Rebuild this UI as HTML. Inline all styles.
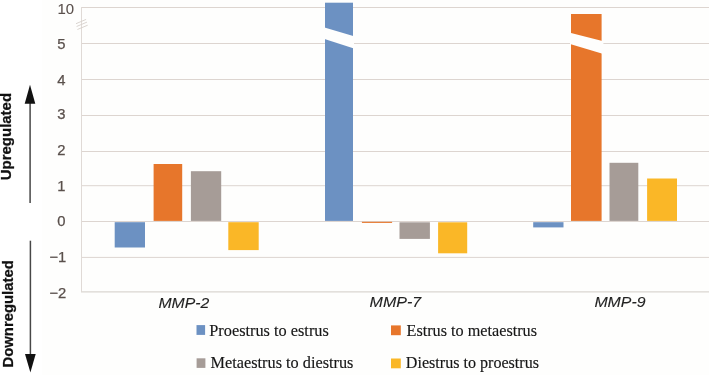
<!DOCTYPE html>
<html>
<head>
<meta charset="utf-8">
<style>
html,body{margin:0;padding:0;background:#fefefd;}
body{width:709px;height:375px;overflow:hidden;}
svg{display:block;will-change:transform;transform:translateZ(0);filter:blur(0.35px);}
.ax{font-family:"Liberation Sans",sans-serif;font-size:14.8px;fill:#5a504c;stroke:#5a504c;stroke-width:0.25px;}
.cat{font-family:"Liberation Sans",sans-serif;font-size:14.3px;font-style:italic;fill:#222;stroke:#222;stroke-width:0.1px;}
.leg{font-family:"Liberation Serif",serif;font-size:16.2px;fill:#161616;stroke:#161616;stroke-width:0.15px;}
.rot{font-family:"Liberation Sans",sans-serif;font-size:14px;font-weight:bold;fill:#111;stroke:#111;stroke-width:0.25px;}
</style>
</head>
<body>
<svg width="709" height="375" viewBox="0 0 709 375">
<rect x="0" y="0" width="709" height="375" fill="#fefefd"/>
<rect x="0" y="0" width="42" height="375" fill="#ffffff"/>
<!-- gridlines -->
<g stroke="#ddd5d0" stroke-width="1" fill="none">
<line x1="81" y1="7.5" x2="709" y2="7.5"/>
<line x1="81" y1="43.5" x2="709" y2="43.5"/>
<line x1="81" y1="79.5" x2="709" y2="79.5"/>
<line x1="81" y1="115.5" x2="709" y2="115.5"/>
<line x1="81" y1="151.5" x2="709" y2="151.5"/>
<line x1="81" y1="185.7" x2="709" y2="185.7"/>
<line x1="81" y1="221.5" x2="709" y2="221.5"/>
<line x1="81" y1="257.4" x2="709" y2="257.4"/>
<line x1="81" y1="291.8" x2="709" y2="291.8" stroke-width="1.3" stroke="#dad6d1"/>
<line x1="81.5" y1="7" x2="81.5" y2="292" stroke="#e0dad6"/>
</g>
<!-- axis break mark -->
<g stroke="#d6cfcb" stroke-width="0.9" fill="none">
<line x1="76" y1="23.7" x2="86.1" y2="19.4"/>
<line x1="76.6" y1="26.5" x2="87" y2="22.1"/>
<line x1="77.4" y1="29.5" x2="87.7" y2="25.2"/>
</g>
<!-- bars MMP-2 -->
<rect x="114.7" y="222.2" width="30.3" height="25.3" fill="#6c91c2"/>
<rect x="153.6" y="164" width="28.6" height="56.9" fill="#e7762b"/>
<rect x="190.9" y="171.2" width="30.3" height="49.7" fill="#a69c97"/>
<rect x="228.3" y="222.2" width="30.4" height="27.9" fill="#fab727"/>
<!-- bars MMP-7 -->
<rect x="325" y="2.7" width="28" height="218.2" fill="#6c91c2"/>
<polygon points="324.5,27.5 354,36.3 354,48.6 324.5,39.0" fill="#fefefd"/>
<rect x="361.9" y="221.8" width="30.2" height="1.1" fill="#e7762b"/>
<rect x="399.5" y="222.3" width="30.4" height="16.6" fill="#a69c97"/>
<rect x="438.1" y="222.3" width="29.1" height="31" fill="#fab727"/>
<!-- bars MMP-9 -->
<rect x="533.2" y="222.2" width="30.3" height="5.2" fill="#6c91c2"/>
<rect x="571" y="14" width="30.6" height="206.9" fill="#e7762b"/>
<polygon points="570,32.8 603.4,41.3 603.4,54.0 570,44.1" fill="#fefefd"/>
<rect x="609.5" y="162.8" width="28.8" height="58.1" fill="#a69c97"/>
<rect x="647.1" y="178.5" width="29.9" height="42.4" fill="#fab727"/>
<!-- y labels -->
<g class="ax">
<text x="57.4" y="14.1" textLength="16.6" lengthAdjust="spacingAndGlyphs" style="font-size:15.2px;stroke-width:0.1px">10</text>
<text x="65.6" y="48.9" text-anchor="end">5</text>
<text x="65.6" y="84.7" text-anchor="end">4</text>
<text x="65.6" y="119.3" text-anchor="end">3</text>
<text x="65.6" y="155.3" text-anchor="end">2</text>
<text x="65.6" y="191.1" text-anchor="end">1</text>
<text x="65.6" y="225.6" text-anchor="end">0</text>
<text x="66.3" y="262" text-anchor="end">−1</text>
<text x="66.3" y="297.7" text-anchor="end">−2</text>
</g>
<!-- category labels -->
<g class="cat">
<text x="158.4" y="307.5" textLength="50.8" lengthAdjust="spacingAndGlyphs">MMP-2</text>
<text x="369.6" y="307.4" textLength="51.6" lengthAdjust="spacingAndGlyphs">MMP-7</text>
<text x="594.4" y="307.4" textLength="51.1" lengthAdjust="spacingAndGlyphs">MMP-9</text>
</g>
<!-- legend -->
<rect x="196.5" y="325.1" width="8.6" height="9.8" fill="#6c91c2"/>
<rect x="391" y="325.4" width="9.8" height="9.8" fill="#e7762b"/>
<rect x="196.6" y="358.3" width="8.8" height="9.6" fill="#a69c97"/>
<rect x="391" y="358.5" width="9.8" height="9.8" fill="#fab727"/>
<g class="leg">
<text x="209.3" y="335.7" textLength="119.5" lengthAdjust="spacingAndGlyphs">Proestrus to estrus</text>
<text x="406.5" y="335.5" textLength="130.5" lengthAdjust="spacingAndGlyphs">Estrus to metaestrus</text>
<text x="210.6" y="368.1" textLength="142.8" lengthAdjust="spacingAndGlyphs">Metaestrus to diestrus</text>
<text x="405.8" y="368" textLength="133.2" lengthAdjust="spacingAndGlyphs">Diestrus to proestrus</text>
</g>
<!-- rotated labels and arrows -->
<text class="rot" transform="translate(11.3,180.3) rotate(-90)" textLength="87.4" lengthAdjust="spacingAndGlyphs">Upregulated</text>
<text class="rot" transform="translate(13.3,367.5) rotate(-90)" textLength="107.3" lengthAdjust="spacingAndGlyphs">Downregulated</text>
<g stroke="#484848" stroke-width="1.5" fill="none">
<line x1="30.1" y1="100" x2="30.1" y2="203"/>
<line x1="30.4" y1="240.7" x2="30.4" y2="356"/>
</g>
<polygon points="30,84.7 35.3,103.8 24.7,103.8" fill="#111"/>
<polygon points="30.4,372.5 35.7,354 25,354" fill="#111"/>
</svg>
</body>
</html>
